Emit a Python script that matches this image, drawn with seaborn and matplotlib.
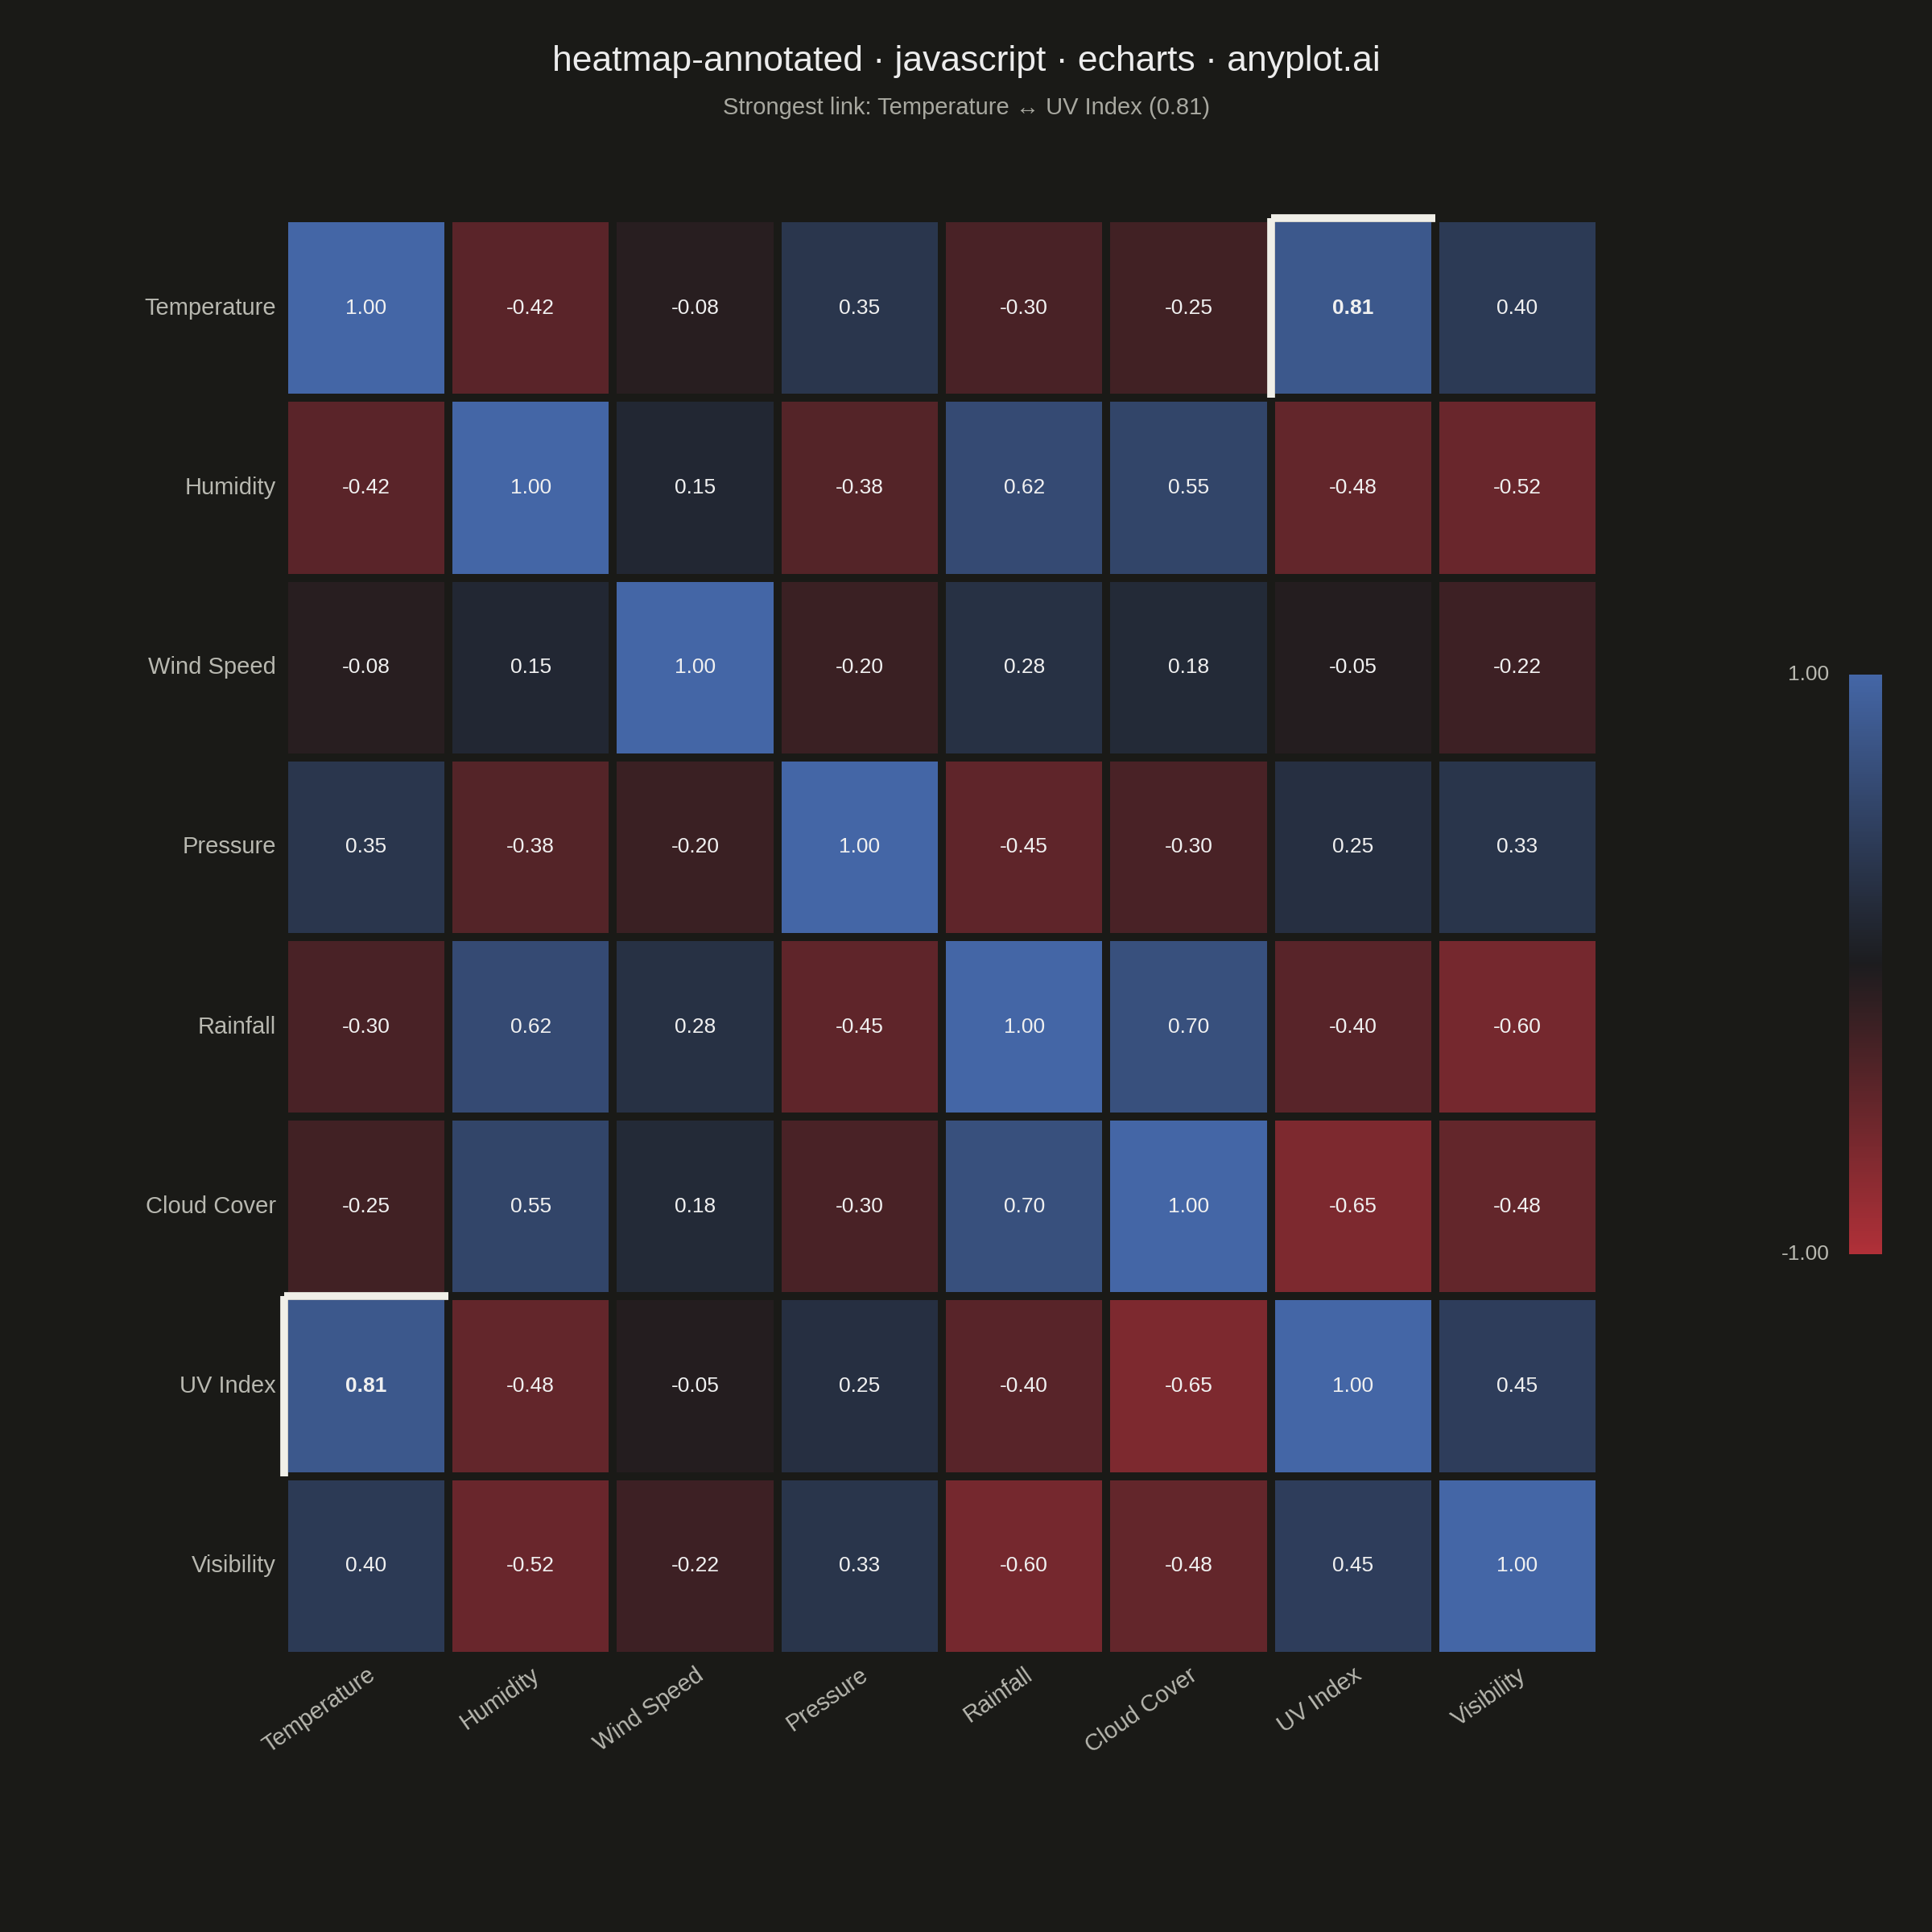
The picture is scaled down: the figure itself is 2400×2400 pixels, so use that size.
import numpy as np
import pandas as pd
import seaborn as sns
import matplotlib.pyplot as plt
from matplotlib.colors import LinearSegmentedColormap

labels = ["Temperature", "Humidity", "Wind Speed", "Pressure", "Rainfall", "Cloud Cover", "UV Index", "Visibility"]
corr = [
    [1.00, -0.42, -0.08, 0.35, -0.30, -0.25, 0.81, 0.40],
    [-0.42, 1.00, 0.15, -0.38, 0.62, 0.55, -0.48, -0.52],
    [-0.08, 0.15, 1.00, -0.20, 0.28, 0.18, -0.05, -0.22],
    [0.35, -0.38, -0.20, 1.00, -0.45, -0.30, 0.25, 0.33],
    [-0.30, 0.62, 0.28, -0.45, 1.00, 0.70, -0.40, -0.60],
    [-0.25, 0.55, 0.18, -0.30, 0.70, 1.00, -0.65, -0.48],
    [0.81, -0.48, -0.05, 0.25, -0.40, -0.65, 1.00, 0.45],
    [0.40, -0.52, -0.22, 0.33, -0.60, -0.48, 0.45, 1.00],
]
df = pd.DataFrame(corr, index=labels, columns=labels)

BG = "#1a1a17"
cmap = LinearSegmentedColormap.from_list("rb", ["#b03038", "#1c1c1e", "#4466a6"])

sns.set_theme(style="dark")
plt.rcParams['font.family'] = ['Liberation Sans', 'DejaVu Sans']
fig = plt.figure(figsize=(12, 12), dpi=200, facecolor=BG)
ax = fig.add_axes([0.147, 0.143, 0.681, 0.744])
cax = fig.add_axes([0.957, 0.351, 0.017, 0.3])
ax.set_facecolor(BG)

annot = df.map(lambda v: f"{v:.2f}")
sns.heatmap(df, ax=ax, cmap=cmap, vmin=-1, vmax=1, annot=annot, fmt="",
            annot_kws={"color": "#f0f0f0", "fontsize": 9.5},
            linewidths=3, linecolor=BG, cbar_ax=cax,
            cbar_kws={"ticks": []})

# bold strongest link
vals = np.array(corr)
off = vals - np.eye(len(labels)) * 2
i, j = np.unravel_index(np.argmax(off), off.shape)
for t in ax.texts:
    x, y = t.get_position()
    if (int(x), int(y)) in [(j, i), (i, j)]:
        t.set_fontweight("bold")
for (r, c) in [(i, j), (j, i)]:
    ax.plot([c, c + 1], [r, r], color="#f0efe8", lw=3.5, solid_capstyle="butt", clip_on=False)
    ax.plot([c, c], [r, r + 1], color="#f0efe8", lw=3.5, solid_capstyle="butt", clip_on=False)

ax.tick_params(length=0, colors="#b8b8b0")
ax.set_xticklabels(labels, rotation=35, ha="right", rotation_mode="anchor", fontsize=10.5, color="#b8b8b0")
ax.set_yticklabels(labels, rotation=0, fontsize=10.5, color="#b8b8b0")
ax.set_xlabel(""); ax.set_ylabel("")

cax.set_yticks([])
cax.text(-0.6, 1.0, "1.00", transform=cax.transAxes, ha="right", va="center", color="#b8b8b0", fontsize=9.5)
cax.text(-0.6, 0.0, "-1.00", transform=cax.transAxes, ha="right", va="center", color="#b8b8b0", fontsize=9.5)
for s in cax.spines.values():
    s.set_visible(False)

fig.text(0.5, 0.968, "heatmap-annotated · javascript · echarts · anyplot.ai", ha="center", va="center",
         color="#ececec", fontsize=16)
fig.text(0.5, 0.944, f"Strongest link: {labels[i]} ↔ {labels[j]} ({vals[i, j]:.2f})", ha="center", va="center",
         color="#a8a8a0", fontsize=10.5)

fig.savefig("out.png", facecolor=BG)
